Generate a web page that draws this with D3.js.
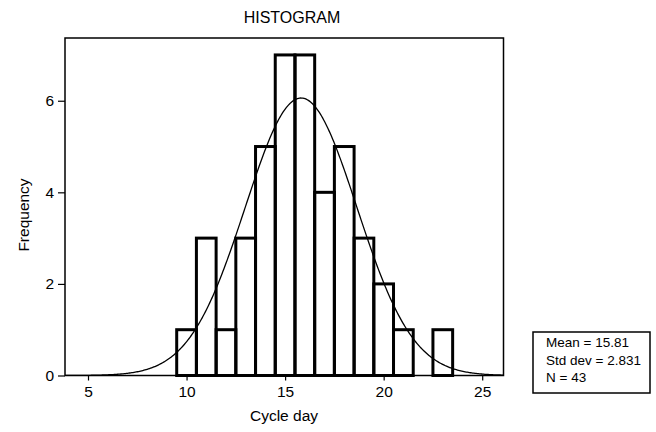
<!DOCTYPE html>
<html>
<head>
<meta charset="utf-8">
<script src="https://cdn.jsdelivr.net/npm/d3@7"></script>
<style>
  html, body { margin: 0; padding: 0; background: #fff; }
  text { font-family: "Liberation Sans", Arial, sans-serif; fill: #000; }
</style>
</head>
<body>
<svg id="chart" width="656" height="432"></svg>
<script>
// ---- data ----
const binCenters = [10, 11, 12, 13, 14, 15, 16, 17, 18, 19, 20, 21, 22, 23];
const frequencies = [1, 3, 1, 3, 5, 7, 7, 4, 5, 3, 2, 1, 0, 1];
const xTicks = [5, 10, 15, 20, 25];
const yTicks = [0, 2, 4, 6];
const statMean = 15.81;
const statSd = 2.831;
const statN = 43;
const statLines = ["Mean = 15.81", "Std dev = 2.831", "N = 43"];
const title = "HISTOGRAM";
const xLabel = "Cycle day";
const yLabel = "Frequency";

// ---- layout ----
const svg = d3.select("#chart");
const pLeft = 65, pRight = 503.5, pTop = 38, pBottom = 375.5;

const x = d3.scaleLinear().domain([3.833, 26.08]).range([pLeft, pRight]);
const y = d3.scaleLinear().domain([0, 7.37]).range([pBottom, pTop]);

svg.append("rect").attr("width", 656).attr("height", 432).attr("fill", "#fff");

// bars
const bins = binCenters.map((c, i) => ({ c, f: frequencies[i] })).filter(d => d.f > 0);
svg.append("g").selectAll("rect").data(bins).join("rect")
  .attr("x", d => x(d.c - 0.5))
  .attr("y", d => y(d.f))
  .attr("width", d => x(d.c + 0.5) - x(d.c - 0.5))
  .attr("height", d => y(0) - y(d.f))
  .attr("fill", "none")
  .attr("stroke", "#000")
  .attr("stroke-width", 3);

// normal curve (from stated mean/sd/N, bin width 1)
const pdf = v => statN / (statSd * Math.sqrt(2 * Math.PI)) * Math.exp(-0.5 * Math.pow((v - statMean) / statSd, 2));
const xs = d3.range(0, 401).map(i => x.domain()[0] + (x.domain()[1] - x.domain()[0]) * i / 400);
svg.append("path")
  .datum(xs)
  .attr("d", d3.line().x(v => x(v)).y(v => y(pdf(v))))
  .attr("fill", "none")
  .attr("stroke", "#000")
  .attr("stroke-width", 1.3);

// frame
svg.append("rect")
  .attr("x", pLeft).attr("y", pTop)
  .attr("width", pRight - pLeft).attr("height", pBottom - pTop)
  .attr("fill", "none").attr("stroke", "#000").attr("stroke-width", 1.5);

// axes
const xAxis = d3.axisBottom(x).tickValues(xTicks).tickSize(5).tickPadding(5).tickSizeOuter(0);
const gx = svg.append("g").attr("transform", `translate(0,${pBottom})`).call(xAxis);
gx.select(".domain").remove();
gx.selectAll("text").style("font-size", "15.5px").attr("font-family", "Liberation Sans, Arial, sans-serif");
gx.selectAll("line").attr("stroke-width", 1.2);

const yAxis = d3.axisLeft(y).tickValues(yTicks).tickSize(7).tickPadding(4).tickSizeOuter(0);
const gy = svg.append("g").attr("transform", `translate(${pLeft},0)`).call(yAxis);
gy.select(".domain").remove();
gy.selectAll("text").style("font-size", "15.5px").attr("font-family", "Liberation Sans, Arial, sans-serif");
gy.selectAll("line").attr("stroke-width", 1.2);

// titles
svg.append("text").attr("x", 292).attr("y", 23).attr("text-anchor", "middle")
  .style("font-size", "16px").text(title);
svg.append("text").attr("x", 284).attr("y", 421).attr("text-anchor", "middle")
  .style("font-size", "15.5px").text(xLabel);
svg.append("text").attr("transform", "translate(29,215) rotate(-90)").attr("text-anchor", "middle")
  .style("font-size", "15.5px").text(yLabel);

// stats box
svg.append("rect").attr("x", 533).attr("y", 332).attr("width", 117).attr("height", 61)
  .attr("fill", "#fff").attr("stroke", "#000").attr("stroke-width", 1.5);
svg.append("g").selectAll("text").data(statLines).join("text")
  .attr("x", 546).attr("y", (d, i) => 347 + i * 17.5)
  .style("font-size", "13.5px").text(d => d);
</script>
</body>
</html>
